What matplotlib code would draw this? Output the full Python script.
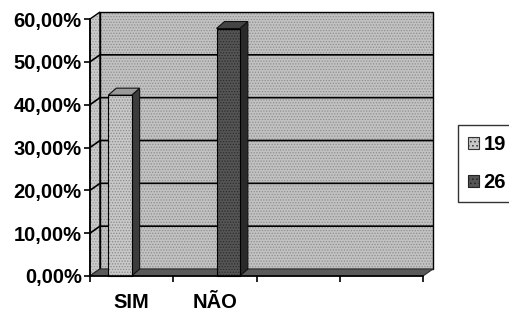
''' 3D-style clustered column chart (SIM / NAO) drawn with plain matplotlib,
    faking the Excel depth with pixel offsets.
'''
import numpy as np
import matplotlib.pyplot as plt
import matplotlib.transforms as mtransforms
from matplotlib.patches import Polygon, Patch

plt.rcParams['font.family'] = ['Liberation Sans', 'DejaVu Sans']
plt.rcParams['font.weight'] = 'bold'
plt.rcParams['hatch.linewidth'] = 0.6

categories = ['SIM', 'NÃO', '', '']
series_names = ['19', '26']
# share of answers per category, one list per series
values_19 = [0.4222, 0.0, 0.0, 0.0]
values_26 = [0.0, 0.5778, 0.0, 0.0]
yticks = [0.0, 0.1, 0.2, 0.3, 0.4, 0.5, 0.6]

W, H, dpi = 509, 314, 100
fig = plt.figure(figsize=(W/dpi, H/dpi), dpi=dpi)
fig.patch.set_facecolor('white')
ax = fig.add_axes([90/W, 38/H, 333/W, 257/H])
ax.set_xlim(0, len(categories))
ax.set_ylim(0, 0.6)
ax.patch.set_visible(False)

ident = mtransforms.IdentityTransform()
wall_dx, wall_dy = 10, 7
bar_dx, bar_dy = 8, 7


def px(x, y, dx=0, dy=0):
    p = ax.transData.transform((x, y))
    return (p[0] + dx, p[1] + dy)


def textured(pts, face, hatch_col, z, hatch='......'):
    ax.add_patch(Polygon(pts, closed=True, facecolor=face, edgecolor=hatch_col,
                         hatch=hatch, lw=0, transform=ident, zorder=z,
                         clip_on=False))


def outline(pts, z, lw=1.0, closed=True):
    ax.add_patch(Polygon(pts, closed=closed, fill=False, edgecolor='black',
                         lw=lw, transform=ident, zorder=z, clip_on=False))


fig.canvas.draw()
nx = len(categories)
top = yticks[-1]

# back wall
back = [px(0, 0, wall_dx, wall_dy), px(nx, 0, wall_dx, wall_dy),
        px(nx, top, wall_dx, wall_dy), px(0, top, wall_dx, wall_dy)]
textured(back, '#c2c2c2', '#8e8e8e', 0.5)
outline(back, 0.8)
# left side wall
left = [px(0, 0), px(0, 0, wall_dx, wall_dy),
        px(0, top, wall_dx, wall_dy), px(0, top)]
textured(left, '#cacaca', '#969696', 0.5)
outline(left, 0.8)
# gridlines: slanted on side wall, flat on back wall
for v in yticks[1:-1]:
    outline([px(0, v), px(0, v, wall_dx, wall_dy), px(nx, v, wall_dx, wall_dy)],
            0.9, lw=1.2, closed=False)
# floor
floor = [px(0, 0), px(nx, 0), px(nx, 0, wall_dx, wall_dy), px(0, 0, wall_dx, wall_dy)]
ax.add_patch(Polygon(floor, closed=True, facecolor='#5a5a5a', edgecolor='#303030',
                     lw=0.8, transform=ident, zorder=1, clip_on=False))

# bars: front faces through the axes, depth faces from their geometry
x = np.arange(nx)
width = 0.28
styles = [('#c8c8c8', '#8a8a8a', '#3c3c3c', '#9a9a9a'),
          ('#555555', '#2c2c2c', '#2a2a2a', '#444444')]
for i, vals in enumerate([values_19, values_26]):
    face, hcol, side, topc = styles[i]
    bars = ax.bar(x + 0.22 + i*0.30, vals, width, align='edge', color=face,
                  edgecolor=hcol, hatch='......', lw=0, zorder=3)
    for b in bars:
        if b.get_height() <= 0:
            continue
        x0, x1, h = b.get_x(), b.get_x() + b.get_width(), b.get_height()
        side_pts = [px(x1, 0), px(x1, 0, bar_dx, bar_dy),
                    px(x1, h, bar_dx, bar_dy), px(x1, h)]
        top_pts = [px(x0, h), px(x1, h), px(x1, h, bar_dx, bar_dy),
                   px(x0, h, bar_dx, bar_dy)]
        ax.add_patch(Polygon(side_pts, facecolor=side, edgecolor='#111111', lw=0.8,
                             transform=ident, zorder=2.5))
        ax.add_patch(Polygon(top_pts, facecolor=topc, edgecolor='#111111', lw=0.8,
                             transform=ident, zorder=2.5))
        outline([px(x0, 0), px(x1, 0), px(x1, h), px(x0, h)], 3.2, lw=0.8)

# axes
for s in ['top', 'right']:
    ax.spines[s].set_visible(False)
ax.spines['left'].set_linewidth(1.2)
ax.spines['bottom'].set_linewidth(1.2)
ax.spines['left'].set_zorder(4)
ax.spines['bottom'].set_zorder(4)
ax.set_yticks(yticks)
ax.yaxis.set_major_formatter(plt.FuncFormatter(
    lambda v, p: ('%.2f%%' % (v*100)).replace('.', ',')))
ax.set_xticks(np.arange(nx + 1))
ax.set_xticklabels([])
ax.set_xticks(x + 0.5, minor=True)
ax.set_xticklabels(categories, minor=True)
ax.tick_params(axis='both', which='major', direction='out', length=4.5,
               width=1.2, labelsize=14.5, pad=1.5, colors='black')
ax.tick_params(axis='x', which='minor', length=0, labelsize=14.5, pad=12)

handles = [Patch(facecolor='#c8c8c8', edgecolor='#333333', hatch='....', lw=0.8),
           Patch(facecolor='#555555', edgecolor='#222222', hatch='....', lw=0.8)]
leg = fig.legend(handles, series_names, loc='upper left',
                 bbox_to_anchor=(458/W, 1 - 125/H), fontsize=14.5, frameon=True,
                 fancybox=False, edgecolor='black', borderpad=0.5,
                 labelspacing=0.95, handlelength=0.55, handleheight=0.55,
                 handletextpad=0.22, borderaxespad=0)
leg.get_frame().set_linewidth(1.0)

fig.savefig('out.png', dpi=dpi)
